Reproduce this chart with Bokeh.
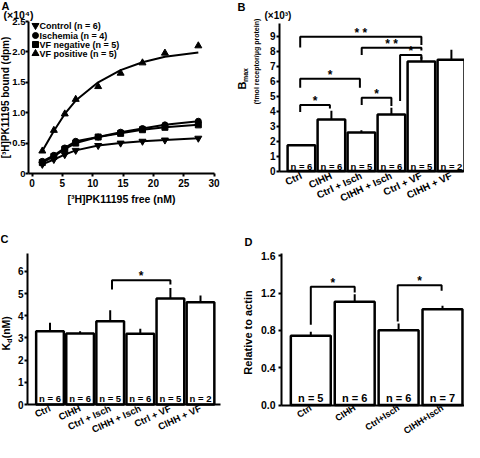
import math
from bokeh.plotting import figure
from bokeh.models import Range1d, FixedTicker, PrintfTickFormatter
from bokeh.layouts import column, row
from bokeh.core.properties import value
from bokeh.embed import file_html
from bokeh.resources import INLINE

FONT = "Liberation Sans"
W, H = 232, 221

# ---------------- Panel A : saturation binding ----------------
conc_free = [1.7, 3.6, 5.4, 7.2, 10.9, 14.6, 18.2, 21.9, 27.4]
bound_control = [0.15, 0.23, 0.31, 0.38, 0.46, 0.50, 0.53, 0.55, 0.58]
bound_ischemia = [0.20, 0.30, 0.42, 0.53, 0.60, 0.68, 0.74, 0.80, 0.86]
bound_vf_neg = [0.18, 0.28, 0.40, 0.50, 0.60, 0.66, 0.72, 0.76, 0.80]
bound_vf_pos = [0.37, 0.71, 0.98, 1.22, 1.43, 1.65, 1.82, 1.98, 2.10]
fit_vf_pos = [0.37, 0.70, 0.98, 1.20, 1.50, 1.70, 1.83, 1.92, 1.99]
series_labels = ["Control (n = 6)", "Ischemia (n = 4)",
                 "VF negative (n = 5)", "VF positive (n = 5)"]
a_xticks = [0, 5, 10, 15, 20, 25, 30]
a_yticks = [0, 0.5, 1.0, 1.5, 2.0, 2.5]

# ---------------- Panel B : Bmax ----------------
groups6 = ["Ctrl", "CIHH", "Ctrl + Isch", "CIHH + Isch", "Ctrl + VF", "CIHH + VF"]
bmax_mean = [1.72, 3.44, 2.56, 3.76, 7.30, 7.42]
bmax_sem = [0.07, 0.58, 0.16, 0.45, 0.32, 0.66]
bmax_n = [6, 6, 5, 6, 5, 2]
bmax_yticks = [0, 1, 2, 3, 4, 5, 6, 7, 8, 9]
# (left group, shift, right group, shift, top, left end, right end, mark)
bmax_sig = [
    ("Ctrl", -0.04, "Ctrl + VF", 0.0, 8.95, 8.23, 8.40, "* *"),
    ("Ctrl + Isch", 0.01, "Ctrl + VF", 0.0, 8.22, 7.73, 8.04, "* *"),
    ("CIHH + Isch", 0.29, "Ctrl + VF", 0.0, 7.73, 4.67, 7.44, "*"),
    ("Ctrl", -0.04, "Ctrl + Isch", -0.05, 6.15, 5.55, 5.55, "*"),
    ("Ctrl", -0.04, "CIHH", -0.05, 4.40, 3.93, 4.17, "*"),
    ("Ctrl + Isch", 0.01, "CIHH + Isch", 0.0, 4.89, 4.40, 4.33, "*"),
]

# ---------------- Panel C : Kd ----------------
kd_mean = [3.30, 3.20, 3.75, 3.19, 4.77, 4.61]
kd_sem = [0.38, 0.10, 0.50, 0.22, 0.48, 0.30]
kd_n = [6, 6, 5, 6, 5, 2]
kd_yticks = [0, 1, 2, 3, 4, 5, 6]
kd_sig = [("Ctrl + Isch", 0.06, "Ctrl + VF", 0.0, 5.60, 5.18, 5.41, "*")]

# ---------------- Panel D : relative to actin ----------------
groups4 = ["Ctrl", "CIHH", "Ctrl+Isch", "CIHH+Isch"]
actin_mean = [0.742, 1.106, 0.800, 1.027]
actin_sem = [0.043, 0.082, 0.073, 0.036]
actin_n = [5, 6, 6, 7]
actin_yticks = [0.0, 0.4, 0.8, 1.2, 1.6]
actin_sig = [("Ctrl", 0.0, "CIHH", 0.0, 1.267, 0.86, 1.206, "*"),
             ("Ctrl+Isch", -0.02, "CIHH+Isch", -0.02, 1.284, 0.895, 1.224, "*")]


class Px:
    """pixel (inside a panel canvas, from its top-left) <-> data mapping"""
    def __init__(self, x0, sx, y0, sy):
        self.x0, self.sx, self.y0, self.sy = x0, sx, y0, sy

    def x(self, px):
        return (px - self.x0) / self.sx

    def y(self, py):
        return (self.y0 - py) / self.sy


def make_fig(P, yaxis_px, xaxis_right_px, ytop):
    p = figure(width=W, height=H,
               x_range=Range1d(P.x(0), P.x(W)), y_range=Range1d(P.y(H), P.y(0)),
               output_backend="svg", toolbar_location=None,
               min_border_left=0, min_border_right=0,
               min_border_top=0, min_border_bottom=0)
    p.outline_line_color = None
    p.grid.visible = False
    p.background_fill_color = "white"
    p.border_fill_color = "white"
    for ax in p.axis:
        ax.axis_line_width = 2
        ax.axis_line_color = "black"
        ax.major_tick_line_width = 2
        ax.major_tick_line_color = "black"
        ax.major_tick_in = 0
        ax.major_tick_out = 3
        ax.minor_tick_line_color = None
        ax.minor_tick_out = 0
        ax.minor_tick_in = 0
        ax.major_label_text_font = FONT
        ax.major_label_text_font_style = "bold"
        ax.major_label_text_font_size = "10px"
        ax.major_label_text_color = "black"
        ax.major_label_standoff = 1
    p.xaxis.fixed_location = 0
    p.yaxis.fixed_location = P.x(yaxis_px)
    p.yaxis.bounds = (0, ytop)
    p.xaxis.bounds = (P.x(yaxis_px), P.x(xaxis_right_px))
    return p


def txt(p, P, s, px, py, size, angle=0.0, align="left", baseline="middle"):
    p.text(x=[P.x(px)], y=[P.y(py)], text=[s], angle=angle, text_align=align,
           text_baseline=baseline, text_font=value(FONT),
           text_font_size=value(size), text_font_style="bold", text_color="black")


def cat_axis(p, groups, angle, size, standoff):
    p.xaxis.ticker = FixedTicker(ticks=list(range(1, len(groups) + 1)))
    p.xaxis.major_label_overrides = {i + 1: g for i, g in enumerate(groups)}
    p.xaxis.major_tick_out = 0
    p.xaxis.major_tick_line_color = None
    p.xaxis.major_label_orientation = math.radians(angle)
    p.xaxis.major_label_standoff = standoff
    p.xaxis.major_label_text_font_size = size


def bars(p, groups, mean, sem, n, width, sig, nsize, noff):
    idx = list(range(1, len(groups) + 1))
    pos = {g: i for g, i in zip(groups, idx)}
    p.vbar(x=idx, top=mean, bottom=0, width=width, fill_color="white",
           line_color="black", line_width=2.5)
    p.segment(x0=idx, y0=mean, x1=idx, y1=[m + s for m, s in zip(mean, sem)],
              line_color="black", line_width=2)
    p.text(x=idx, y=[0] * len(idx), text=[f"n = {k}" for k in n],
           text_align="center", text_baseline="middle", y_offset=noff,
           text_font=value(FONT), text_font_size=value(nsize),
           text_font_style="bold", text_color="black")
    xs, ys, mx, my, mt = [], [], [], [], []
    for gl, dl, gr, dr, top, yl, yr, mark in sig:
        xl, xr = pos[gl] + dl, pos[gr] + dr
        xs.append([xl, xl, xr, xr])
        ys.append([yl, top, top, yr])
        mx.append((xl + xr) / 2)
        my.append(top)
        mt.append(mark)
    p.multi_line(xs=xs, ys=ys, line_color="black", line_width=2)
    p.text(x=mx, y=my, text=mt, text_align="center", text_baseline="bottom",
           y_offset=3, text_font=value(FONT), text_font_size=value("12px"),
           text_font_style="bold", text_color="black")


# ================= Panel A =================
PA = Px(31.5, 6.07, 173.0, 60.8)
pA = make_fig(PA, 28, 214, 2.5)
pA.xaxis.ticker = FixedTicker(ticks=a_xticks)
pA.yaxis.ticker = FixedTicker(ticks=a_yticks)
pA.yaxis.formatter = PrintfTickFormatter(format="%.1f")
pA.yaxis.major_label_overrides = {0: "0"}
pA.yaxis.major_label_standoff = 0
pA.yaxis.major_label_text_font_size = "9.5px"
pA.xaxis.major_label_standoff = 2

for ys in (bound_control, bound_vf_neg, bound_ischemia):
    pA.line(conc_free, ys, line_color="black", line_width=2)
pA.line(conc_free, fit_vf_pos, line_color="black", line_width=2)

markers = ["inverted_triangle", "circle", "square", "triangle"]
sizes = [7, 6, 6, 7]
series = [bound_control, bound_ischemia, bound_vf_neg, bound_vf_pos]
for mk, sz, ys in zip(markers, sizes, series):
    pA.scatter(conc_free, ys, marker=mk, size=sz, fill_color="black",
               line_color="black")
# key (legend) in the upper-left corner of the plot
key_rows = [25, 35, 44, 53]
pA.scatter(x=[PA.x(35)] * 4, y=[PA.y(r) for r in key_rows], marker=markers,
           size=sizes, fill_color="black", line_color="black")
pA.text(x=[PA.x(39)] * 4, y=[PA.y(r) for r in key_rows], text=series_labels,
        text_align="left", text_baseline="middle", text_font=value(FONT),
        text_font_size=value("9px"), text_font_style="bold", text_color="black")

txt(pA, PA, "A", 1, -1, "11px", baseline="top")
txt(pA, PA, "(\u00d710\u2074)", 3, 14, "10.5px")
txt(pA, PA, "[\u00b3H]PK11195 bound (dpm)", 5, 97, "10px", angle=math.pi / 2,
    align="center")
txt(pA, PA, "[\u00b3H]PK11195 free (nM)", 121, 198, "10.5px", align="center")

# ================= Panel B =================
PB = Px(38.9, 30.0, 170.5, 15.0)
pB = make_fig(PB, 47, 231, 9.83)
bars(pB, groups6, bmax_mean, bmax_sem, bmax_n, 0.92, bmax_sig, "9.5px", -4.5)
pB.yaxis.ticker = FixedTicker(ticks=bmax_yticks)
cat_axis(pB, groups6, 25, "10px", 4)
txt(pB, PB, "B", 5, 0, "11px", baseline="top")
txt(pB, PB, "(\u00d710\u00b3)", 32, 15, "10px")
txt(pB, PB, "B", 9, 89, "11px", angle=math.pi / 2)
txt(pB, PB, "max", 13, 81.5, "7px", angle=math.pi / 2)
txt(pB, PB, "(fmol receptor/\u03bcg protein)", 24, 61, "7px", angle=math.pi / 2,
    align="center")

# ================= Panel C =================
PC = Px(19.4, 30.1, 183.0, 22.2)
pC = make_fig(PC, 27, 220, 6.80)
bars(pC, groups6, kd_mean, kd_sem, kd_n, 0.92, kd_sig, "9.5px", -6)
pC.yaxis.ticker = FixedTicker(ticks=kd_yticks)
cat_axis(pC, groups6, 25, "9.5px", 3)
txt(pC, PC, "C", 0, 17.5, "11px")
txt(pC, PC, "K", 5, 129, "10.5px", angle=math.pi / 2)
txt(pC, PC, "d", 8.5, 121.4, "7.5px", angle=math.pi / 2)
txt(pC, PC, " (nM)", 5, 116.8, "10.5px", angle=math.pi / 2)

# ================= Panel D =================
PD = Px(34.4, 43.9, 183.5, 93.3)
pD = make_fig(PD, 49, 232, 1.624)
bars(pD, groups4, actin_mean, actin_sem, actin_n, 0.91, actin_sig, "11px", -7.5)
pD.yaxis.ticker = FixedTicker(ticks=actin_yticks)
pD.yaxis.formatter = PrintfTickFormatter(format="%.1f")
pD.yaxis.major_label_standoff = 3
pD.yaxis.major_label_text_font_size = "10.5px"
cat_axis(pD, groups4, 33, "9px", 2)
txt(pD, PD, "D", 12, 20.5, "11px")
txt(pD, PD, "Relative to actin", 15, 111, "11px", angle=math.pi / 2, align="center")

layout = column(row(pA, pB), row(pC, pD))
open("out.html", "w").write(file_html(layout, INLINE))
